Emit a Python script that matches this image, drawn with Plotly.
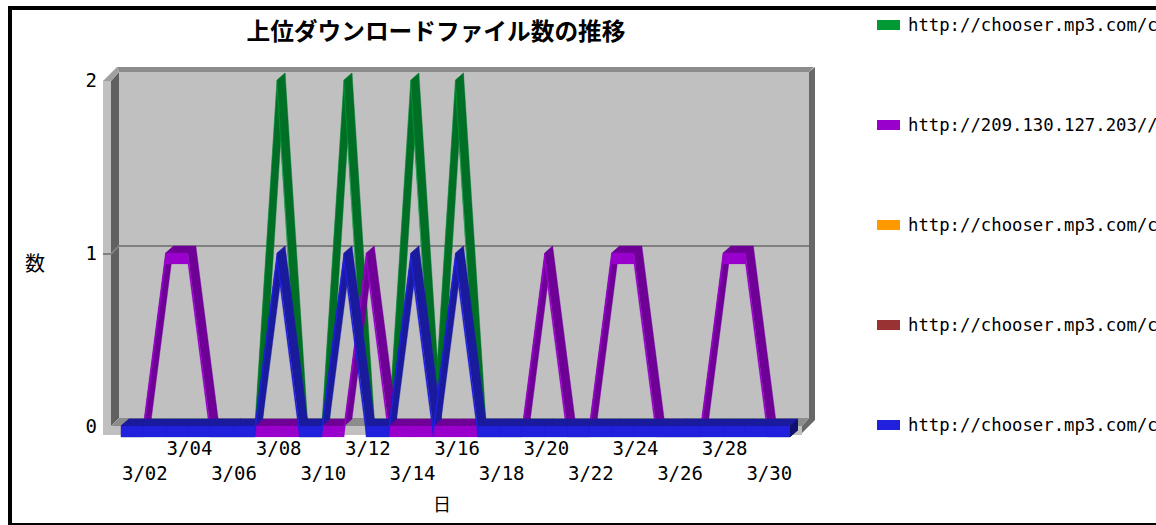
import plotly.graph_objects as go

# ---- data ----
days = list(range(1, 32))
tick_days = list(range(2, 31, 2))
tick_labels = ["<br>3/02", "3/04", "<br>3/06", "3/08", "<br>3/10", "3/12", "<br>3/14", "3/16",
               "<br>3/18", "3/20", "<br>3/22", "3/24", "<br>3/26", "3/28", "<br>3/30"]
y_ticks = [0, 1, 2]
series_names = ["http://chooser.mp3.com/c", "http://209.130.127.203//c", "http://chooser.mp3.com/c",
                "http://chooser.mp3.com/c", "http://chooser.mp3.com/c"]
s_green  = [0,0,0,0,0,0,0,2,0,0,2,0,0,2,0,2,0,0,0,0,0,0,0,0,0,0,0,0,0,0,0]
s_purple = [0,0,1,1,0,0,0,0,0,0,0,1,0,0,0,0,0,0,0,1,0,0,1,1,0,0,0,1,1,0,0]
s_orange = []   # listed in the legend, no visible marks
s_brown  = []   # listed in the legend, no visible marks
s_blue   = [0,0,0,0,0,0,0,1,0,0,1,0,0,1,0,1,0,0,0,0,0,0,0,0,0,0,0,0,0,0,0]
series_values = [s_green, s_purple, s_orange, s_brown, s_blue]

# ---- styles ----
bright = ["#009933", "#9900CC", "#FF9900", "#993333", "#2020DD"]
dark   = ["#006F26", "#6F0096", "#B86E00", "#702525", "#1A1A9C"]
edge   = ["#007A2A", "#7500A0", "#CC7A00", "#802A2A", "#1D1DA8"]
side   = ["#004F1B", "#4F006C", "#804C00", "#501A1A", "#10106E"]
FONT_CJK = "Noto Sans CJK JP"
FONT_NUM = "DejaVu Sans Mono"
W, H = 1156, 525
L, R, T, B = 102, 817, 65, 439      # plot area, in pixels
PX_DAY, PX_UNIT = 22.3, 173.0
X0_PX, Y0_PX = 121.0, 426.0
DX, DY, FACE = 8.0, 7.0, 11.0   # ribbon depth and front-face height, in pixels

def xd(px):
    return 1 + (px - X0_PX) / PX_DAY

def yd(py):
    return (Y0_PX - py) / PX_UNIT

def ppx(px):
    return (px - L) / (R - L)

def ppy(py):
    return (B - py) / (B - T)

def oriented(poly):
    area = sum(poly[i][0] * poly[(i + 1) % len(poly)][1] - poly[(i + 1) % len(poly)][0] * poly[i][1]
               for i in range(len(poly)))
    return poly if area >= 0 else poly[::-1]

def paths(polys):
    xs, ys = [], []
    for poly in polys:
        poly = oriented(poly)
        xs += [p[0] for p in poly] + [poly[0][0], None]
        ys += [p[1] for p in poly] + [poly[0][1], None]
    return xs, ys

fig = go.Figure()

def frame_poly(points, color):
    fig.add_trace(go.Scatter(x=[xd(p[0]) for p in points] + [xd(points[0][0])],
                             y=[yd(p[1]) for p in points] + [yd(points[0][1])],
                             mode="lines", fill="toself", fillcolor=color, line=dict(width=0),
                             hoverinfo="skip", showlegend=False))

# chart box
frame_poly([(119, 72), (809, 72), (809, 418), (119, 418)], "#C0C0C0")
frame_poly([(103, 81), (111, 81), (111, 434), (103, 434)], "#C0C0C0")
frame_poly([(111, 81), (119, 72), (119, 418), (111, 426)], "#606060")
frame_poly([(117, 67), (814, 67), (809, 72), (119, 72)], "#8C8C8C")
frame_poly([(103, 81), (117, 67), (119, 72), (111, 81)], "#A0A0A0")
frame_poly([(809, 72), (815, 67), (815, 420), (802, 433), (802, 426), (809, 418)], "#686868")
frame_poly([(119, 418), (809, 418), (802, 426), (111, 426)], "#8C8C8C")
frame_poly([(103, 426), (802, 426), (802, 435), (103, 435)], "#C0C0C0")

# gridline at value 1, following the box
gy = Y0_PX - 1 * PX_UNIT + 1
fig.add_trace(go.Scatter(x=[xd(103), xd(111), xd(119), xd(809)],
                         y=[yd(gy), yd(gy), yd(gy - 8), yd(gy - 8)],
                         mode="lines", line=dict(color="#808080", width=2),
                         hoverinfo="skip", showlegend=False))

# ribbons
ox, oy = DX / PX_DAY, DY / PX_UNIT
fh = FACE / PX_UNIT
for k, (name, vals) in enumerate(zip(series_names, series_values)):
    if not vals:
        continue
    tops, fronts = [], []
    for a in range(len(days) - 1):
        x0, x1, y0, y1 = days[a], days[a + 1], vals[a], vals[a + 1]
        tops.append([(x0, y0), (x1, y1), (x1 + ox, y1 + oy), (x0 + ox, y0 + oy)])
        fronts.append([(x0, y0), (x1, y1), (x1, y1 - fh), (x0, y0 - fh)])
    xl, yl = days[-1], vals[-1]
    cap = [(xl, yl), (xl + ox, yl + oy), (xl + ox, yl + oy - fh), (xl, yl - fh)]
    tx, ty = paths(tops)
    fig.add_trace(go.Scatter(x=tx, y=ty, name=name, mode="lines", fill="toself", fillcolor=dark[k],
                             line=dict(color=edge[k], width=0.4), hoverinfo="skip", showlegend=False))
    fx, fy = paths(fronts)
    fig.add_trace(go.Scatter(x=fx, y=fy, name=name, mode="lines", fill="toself", fillcolor=bright[k],
                             line=dict(color=bright[k], width=0.2), hoverinfo="skip", showlegend=False))
    cx, cy = paths([cap])
    fig.add_trace(go.Scatter(x=cx, y=cy, name=name, mode="lines", fill="toself", fillcolor=side[k],
                             line=dict(width=0), hoverinfo="skip", showlegend=False))

# outer border, legend swatches and legend text
shapes = []
for (x0, y0, x1, y1) in [(8, 6, 12, 524), (8, 6, W, 10), (8, 523, W, 525)]:
    shapes.append(dict(type="rect", xref="paper", yref="paper", x0=ppx(x0), x1=ppx(x1), y0=ppy(y0), y1=ppy(y1),
                       fillcolor="#000000", line=dict(width=0)))
annotations = []
for k, name in enumerate(series_names):
    yc = 25 + 100 * k
    shapes.append(dict(type="rect", xref="paper", yref="paper", x0=ppx(877), x1=ppx(900),
                       y0=ppy(yc - 5), y1=ppy(yc + 5), fillcolor=bright[k], line=dict(width=0)))
    annotations.append(dict(text=name, xref="paper", yref="paper", x=ppx(905.5), y=ppy(yc), xanchor="left",
                            yanchor="middle", showarrow=False, align="left",
                            font=dict(family=FONT_NUM, size=17.3, color="#000000")))
annotations.append(dict(text="数", xref="paper", yref="paper", x=ppx(35), y=ppy(262), xanchor="center",
                        yanchor="middle", showarrow=False, font=dict(family=FONT_CJK, size=20, color="#000000")))
annotations.append(dict(text="日", xref="paper", yref="paper", x=ppx(442), y=ppy(503), xanchor="center",
                        yanchor="middle", showarrow=False, font=dict(family=FONT_CJK, size=18, color="#000000")))

fig.update_layout(
    width=W, height=H, autosize=False,
    margin=dict(l=L, r=W - R, t=T, b=H - B, pad=0),
    paper_bgcolor="#FFFFFF", plot_bgcolor="#FFFFFF", showlegend=False,
    title=dict(text="上位ダウンロードファイル数の推移", x=436 / W, xanchor="center",
               y=1 - 32 / H, yanchor="middle",
               font=dict(family=FONT_CJK, size=23.7, color="#000000", weight="bold")),
    xaxis=dict(range=[xd(L), xd(R)], tickmode="array", tickvals=[d + 0.07 for d in tick_days], ticktext=tick_labels,
               showgrid=False, zeroline=False, showline=False, ticks="", fixedrange=True, automargin=False,
               tickangle=0, ticklabeloverflow="allow", ticklabelstandoff=-4,
               tickfont=dict(family=FONT_NUM, size=19, color="#000000")),
    yaxis=dict(range=[yd(B), yd(T)], tickmode="array", tickvals=y_ticks, ticktext=[str(v) for v in y_ticks],
               showgrid=False, zeroline=False, showline=False, ticks="", fixedrange=True, automargin=False,
               ticklabelstandoff=4, tickfont=dict(family=FONT_NUM, size=19, color="#000000")),
    shapes=shapes, annotations=annotations,
)

# the page's default 8 px body margin would push the figure past the window
fig.write_html("out.html", config={"displayModeBar": False},
               post_script="document.body.style.margin='0';document.body.style.overflow='hidden';")
